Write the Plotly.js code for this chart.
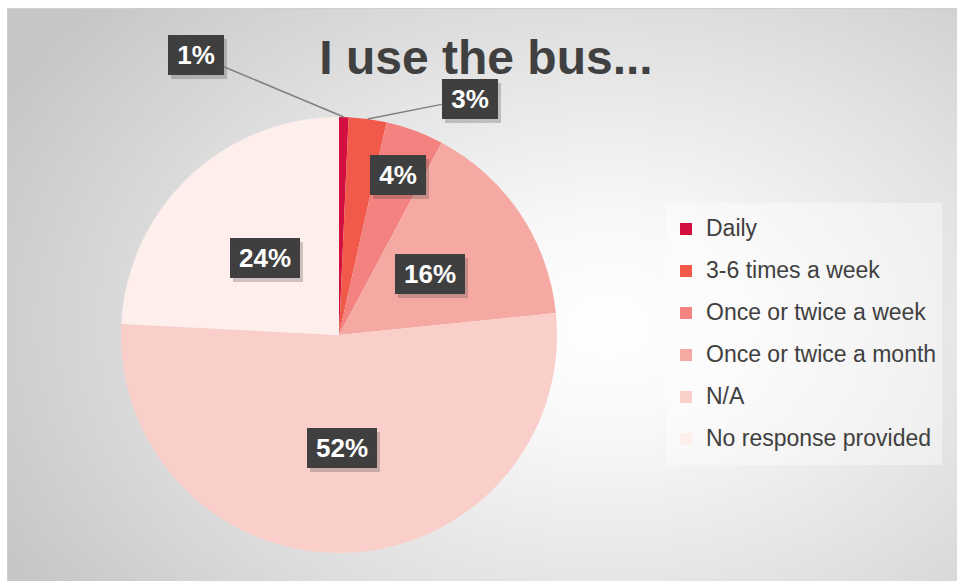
<!DOCTYPE html>
<html>
<head>
<meta charset="utf-8">
<script src="https://cdn.plot.ly/plotly-3.0.1.min.js"></script>
<style>
  html, body { margin: 0; padding: 0; background: #ffffff; overflow: hidden; }
  #frame {
    position: absolute; left: 7px; top: 8px; width: 952px; height: 575px;
    border-top: 1px solid #cfcfcf; border-left: 1px solid #cfcfcf;
    background: radial-gradient(ellipse 72% 85% at 63% 55%, #ffffff 0%, #f8f8f8 22%, #e2e2e2 58%, #c6c6c6 100%);
  }
  #chart { position: absolute; left: 0; top: 0; width: 957px; height: 581px; }
</style>
</head>
<body>
<div id="frame"></div>
<div id="chart"></div>
<script>
// ---- data ----
const categories = ["Daily", "3-6 times a week", "Once or twice a week", "Once or twice a month", "N/A", "No response provided"];
const values = [0.7, 2.8, 4.3, 15.6, 52.4, 24.2];
const sliceColors = ["#d20f3f", "#f15a4a", "#f38281", "#f6a9a3", "#facfca", "#feefec"];
const chartTitle = "I use the bus...";

// ---- layout config ----
const W = 957, H = 581;
const cx = 339, cy = 335, R = 218;            // pie centre / radius in px
const labelRadius = [null, null, 0.785, 0.5, 0.52, 0.49]; // null = outside with leader
const outsideOffset = [[-148, -62], [102, -20]];

const total = values.reduce((a, b) => a + b, 0);
let cum = 0;
const annotations = [];
const shadows = [];
values.forEach((v, i) => {
  const mid = (cum + v / 2) / total * 2 * Math.PI;
  cum += v;
  const label = Math.round(v / total * 100) + "%";
  const innerW = label.length === 2 ? 46 : 60;
  const base = {
    text: "<b>" + label + "</b>",
    xref: "paper", yref: "paper", xanchor: "center", yanchor: "middle",
    font: { family: "Liberation Sans, Arial, sans-serif", size: 26, color: "#ffffff" },
    bgcolor: "#3f3f3f", borderwidth: 0, borderpad: 5,
    width: innerW, height: 30, align: "center", valign: "middle"
  };
  const shadowStyle = {
    text: " ", xshift: 3, yshift: -4, bgcolor: "rgba(60,60,60,0.25)"
  };
  let px, py;
  if (labelRadius[i] === null) {
    px = cx + R * Math.sin(mid);
    py = cy - R * Math.cos(mid);
    const off = outsideOffset[i];
    annotations.push(Object.assign({}, base, {
      x: px / W, y: 1 - py / H, showarrow: true, arrowhead: 0, arrowwidth: 1.5,
      arrowcolor: "#7f7f7f", ax: off[0], ay: off[1], standoff: 0
    }));
    shadows.push(Object.assign({}, base, shadowStyle, {
      x: px / W, y: 1 - py / H, showarrow: true, arrowcolor: "rgba(0,0,0,0)",
      ax: off[0], ay: off[1]
    }));
  } else {
    const r = R * labelRadius[i];
    px = cx + r * Math.sin(mid);
    py = cy - r * Math.cos(mid);
    annotations.push(Object.assign({}, base, { x: px / W, y: 1 - py / H, showarrow: false }));
    shadows.push(Object.assign({}, base, shadowStyle, { x: px / W, y: 1 - py / H, showarrow: false }));
  }
});

const trace = {
  type: "pie",
  labels: categories.map(c => '<span style="font-size:23px;baseline-shift:5px">' + c + '</span>'),
  values: values,
  marker: { colors: sliceColors, line: { width: 0 } },
  sort: false,
  direction: "clockwise",
  rotation: 0,
  textinfo: "none",
  hoverinfo: "label+percent",
  domain: { x: [(cx - R) / W, (cx + R) / W], y: [(H - cy - R) / H, (H - cy + R) / H] }
};

const layout = {
  width: W, height: H,
  margin: { l: 0, r: 0, t: 0, b: 0 },
  paper_bgcolor: "rgba(0,0,0,0)",
  plot_bgcolor: "rgba(0,0,0,0)",
  title: {
    text: "<b>" + chartTitle + "</b>",
    font: { family: "Liberation Sans, Arial, sans-serif", size: 48, color: "#404040" },
    x: 486 / W, xanchor: "center", xref: "paper",
    y: 1 - 57 / H, yanchor: "middle", yref: "paper"
  },
  showlegend: true,
  legend: {
    x: 666 / W, xanchor: "left", y: 1 - 203 / H, yanchor: "top",
    bgcolor: "rgba(255,255,255,0.4)",
    font: { family: "Liberation Sans, Arial, sans-serif", size: 30, color: "#404040" },
    itemclick: false, itemdoubleclick: false
  },
  annotations: shadows.concat(annotations)
};

Plotly.newPlot("chart", [trace], layout, { displayModeBar: false, staticPlot: true });
</script>
</body>
</html>
